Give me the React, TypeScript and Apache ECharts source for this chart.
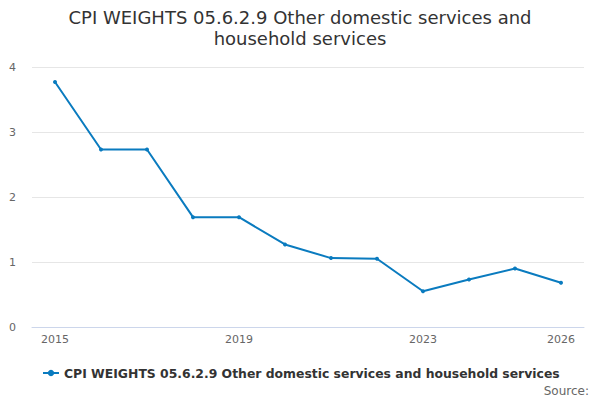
import React, { useEffect, useRef } from "react";
import * as echarts from "echarts";

const categories = ["2015", "2016", "2017", "2018", "2019", "2020", "2021", "2022", "2023", "2024", "2025", "2026"];
const values = [3.77, 2.73, 2.73, 1.69, 1.69, 1.27, 1.06, 1.05, 0.55, 0.73, 0.9, 0.68];
const seriesName = "CPI WEIGHTS 05.6.2.9 Other domestic services and household services";
const titleText = "CPI WEIGHTS 05.6.2.9 Other domestic services and\nhousehold services";

export default function App() {
  const ref = useRef<HTMLDivElement>(null);
  useEffect(() => {
    document.body.style.margin = "0";
    if (!ref.current) return;
    const chart = echarts.init(ref.current, null, { renderer: "svg" });
    const font = "DejaVu Sans";
    chart.setOption({
      animation: false,
      textStyle: { fontFamily: font },
      title: {
        text: titleText,
        left: "center",
        top: 2,
        textStyle: { fontFamily: font, fontSize: 18, fontWeight: "normal", color: "#333333", lineHeight: 21 },
      },
      grid: { left: 32, right: 16, top: 67, bottom: 73, containLabel: false },
      legend: {
        data: [seriesName],
        left: 37,
        top: 362,
        itemWidth: 16,
        itemHeight: 8,
        itemGap: 5,
        textStyle: { fontFamily: font, fontSize: 12.4, fontWeight: "bold", color: "#333333" },
      },
      graphic: [
        {
          type: "text",
          right: 11,
          top: 385,
          style: { text: "Source:", fontFamily: font, fontSize: 12, fill: "#666666" },
        },
      ],
      xAxis: {
        type: "category",
        data: categories,
        boundaryGap: true,
        axisLine: { lineStyle: { color: "#ccd6eb" } },
        axisTick: { alignWithLabel: true, interval: 0, length: 10, lineStyle: { color: "#ccd6eb" } },
        axisLabel: {
          fontFamily: font,
          fontSize: 11,
          color: "#666666",
          margin: 7,
          interval: (i: number) => i % 4 === 0 || i === categories.length - 1,
        },
      },
      yAxis: {
        type: "value",
        min: 0,
        max: 4,
        interval: 1,
        axisLine: { show: false },
        axisTick: { show: false },
        splitLine: { lineStyle: { color: "#e6e6e6" } },
        axisLabel: { fontFamily: font, fontSize: 11, color: "#666666", margin: 16 },
      },
      series: [
        {
          name: seriesName,
          type: "line",
          data: values,
          symbol: "circle",
          symbolSize: 4,
          itemStyle: { color: "#0a7bbf" },
          lineStyle: { width: 2, color: "#0a7bbf" },
        },
      ],
    });
    return () => chart.dispose();
  }, []);
  return <div ref={ref} style={{ width: 600, height: 400 }} />;
}
